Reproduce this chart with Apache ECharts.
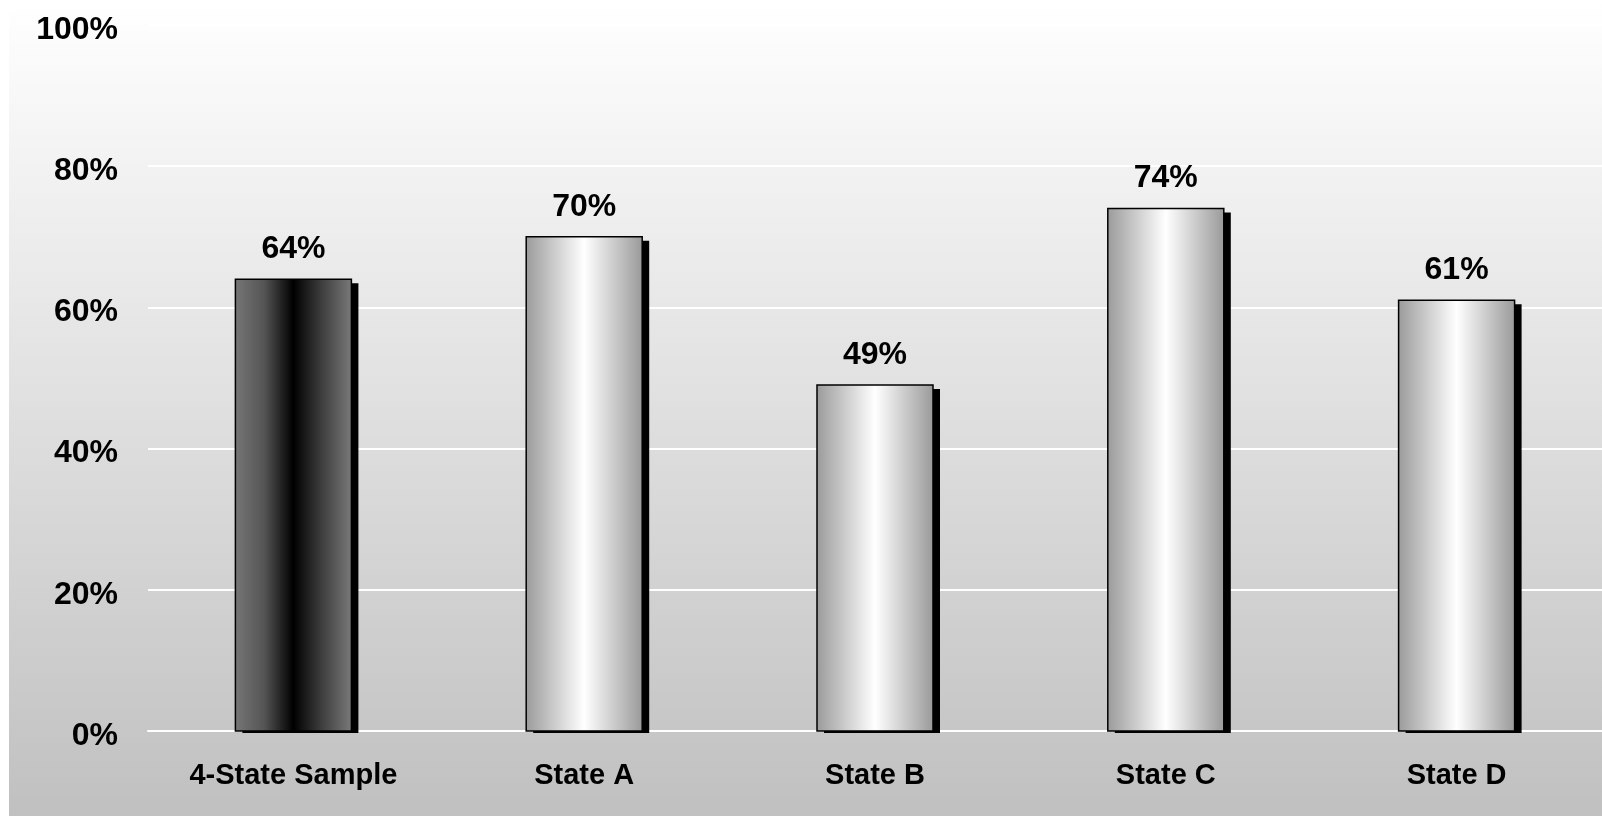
<!DOCTYPE html>
<html><head><meta charset="utf-8">
<script src="https://cdn.jsdelivr.net/npm/echarts@6/dist/echarts.min.js"></script>
<style>html,body{margin:0;padding:0;background:#fff}#c{width:1602px;height:816px}</style>
</head><body><div id="c"></div>
<script>
const categories = ['4-State Sample', 'State A', 'State B', 'State C', 'State D'];
const values = [64, 70, 49, 74, 61];
const yTicks = [0, 20, 40, 60, 80, 100];

const FONT = '"Liberation Sans", Arial, sans-serif';
const darkGrad = {type:'linear',x:0,y:0,x2:1,y2:0,colorStops:[
  {offset:0,color:'#767676'},{offset:0.25,color:'#555555'},{offset:0.5,color:'#000000'},
  {offset:0.75,color:'#404040'},{offset:1,color:'#7a7a7a'}]};
const lightGrad = {type:'linear',x:0,y:0,x2:1,y2:0,colorStops:[
  {offset:0,color:'#9a9a9a'},{offset:0.5,color:'#ffffff'},{offset:1,color:'#999999'}]};
const BAR_W = 116;

const chart = echarts.init(document.getElementById('c'));
chart.setOption({
  animation:false,
  graphic:[{type:'rect',z:-10,silent:true,shape:{x:9,y:0,width:1593,height:816},
    style:{fill:{type:'linear',x:0,y:0,x2:0,y2:1,colorStops:[{offset:0,color:'#ffffff'},{offset:1,color:'#c0c0c0'}]}}}],
  grid:{left:148,right:0,top:25,bottom:85,containLabel:false},
  xAxis:{type:'category',data:categories,
    axisLine:{show:true,lineStyle:{color:'#ffffff',width:2}},axisTick:{show:false},
    axisLabel:{fontFamily:FONT,fontWeight:'bold',fontSize:29,color:'#000',margin:30}},
  yAxis:{type:'value',min:0,max:100,interval:20,
    axisLine:{show:false},axisTick:{show:false},
    axisLabel:{fontFamily:FONT,fontWeight:'bold',fontSize:32,color:'#000',margin:30,
      formatter:v=>yTicks.includes(v)?'{a|'+v+'%}':'',
      rich:{a:{fontFamily:FONT,fontWeight:'bold',fontSize:32,color:'#000',padding:[10,0,0,0]}}},
    splitLine:{lineStyle:{color:'#ffffff',width:2}}},
  series:[
    {type:'custom',z:3,
     data:values.map((v,i)=>[i,v]),
     renderItem:(params,api)=>{
       const top = api.coord([api.value(0), api.value(1)]);
       const base = api.coord([api.value(0), 0]);
       const x = top[0]-BAR_W/2, y = top[1], h = base[1]-top[1];
       const fill = api.value(0)===0 ? darkGrad : lightGrad;
       return {type:'group',children:[
         {type:'rect',shape:{x:x+7,y:y+4,width:BAR_W,height:h-2},style:{fill:'#000'}},
         {type:'rect',shape:{x:x,y:y,width:BAR_W,height:h},style:{fill:fill,stroke:'#000',lineWidth:1.5}}
       ]};
     }},
    {type:'bar',barWidth:BAR_W,z:4,data:values,
     itemStyle:{color:'rgba(0,0,0,0)'},
     label:{show:true,position:'top',distance:14,fontFamily:FONT,fontWeight:'bold',fontSize:32,color:'#000',formatter:p=>p.value+'%'}}
  ]
});
</script></body></html>
